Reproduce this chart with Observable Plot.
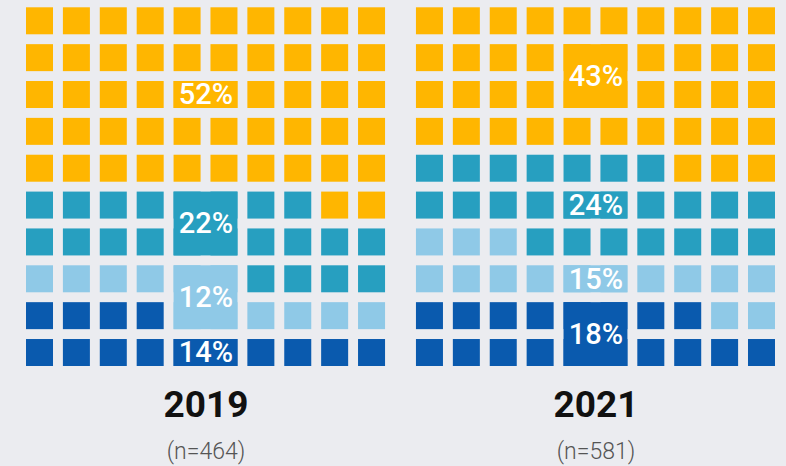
<!DOCTYPE html>
<html>
<head>
<meta charset="utf-8">
<script src="https://cdn.jsdelivr.net/npm/d3@7"></script>
<script src="https://cdn.jsdelivr.net/npm/@observablehq/plot@0.6"></script>
<style>
  html, body { margin: 0; padding: 0; background: #ebecf0; }
  #chart svg { display: block; }
</style>
</head>
<body>
<div id="chart"></div>
<script>
// Data
const years = ["2019", "2021"];
const sampleSizes = ["(n=464)", "(n=581)"];
// categories in fill order (bottom-left upward)
const categories = ["dark", "light", "teal", "yellow"];
const colors = ["#0a5aae", "#8fc9e7", "#279fc0", "#ffb600"];
const values2019 = [14, 12, 22, 52];
const values2021 = [18, 15, 24, 43];
const seriesValues = [values2019, values2021];

// Layout constants (in grid units; 1 unit = cell pitch)
const COLS = 10, ROWS = 10;
const CELL = 0.732;      // cell size relative to pitch
const SHIFT = 10.57;     // offset of second grid
const LABEL_COLS = [4, 5];

const cells = [];
const blocks = [];
seriesValues.forEach((vals, g) => {
  const grid = [];
  let i = 0;
  vals.forEach((v, k) => {
    for (let j = 0; j < v; j++, i++) {
      const row = ROWS - 1 - Math.floor(i / COLS);
      const col = i % COLS;
      grid[row * COLS + col] = k;
      cells.push({g, k, row, col, x1: g * SHIFT + col, x2: g * SHIFT + col + CELL, y1: row, y2: row + CELL});
    }
  });
  // label blocks: rows where both label columns belong to category
  vals.forEach((v, k) => {
    const rows = [];
    for (let r = 0; r < ROWS; r++) {
      if (LABEL_COLS.every(c => grid[r * COLS + c] === k)) rows.push(r);
    }
    let chosen;
    if (rows.length % 2 === 1) chosen = [rows[(rows.length - 1) / 2]];
    else chosen = [rows[rows.length / 2 - 1], rows[rows.length / 2]];
    const r0 = chosen[0], r1 = chosen[chosen.length - 1];
    const x1 = g * SHIFT + LABEL_COLS[0];
    const x2 = g * SHIFT + LABEL_COLS[1] + CELL;
    blocks.push({g, k, x1, x2, y1: r0, y2: r1 + CELL, cx: (x1 + x2) / 2, cy: (r0 + r1 + CELL) / 2, label: v + "%"});
  });
});

const titles = years.map((y, g) => ({cx: g * SHIFT + (COLS - 1 + CELL) / 2, year: y, n: sampleSizes[g]}));

const chart = Plot.plot({
  width: 786,
  height: 466,
  margin: 0,
  style: {background: "#ebecf0", fontFamily: "Roboto, 'Noto Sans', sans-serif"},
  x: {axis: null, domain: [0, SHIFT + COLS - 1 + CELL], range: [26, 775]},
  y: {axis: null, domain: [0, ROWS - 1 + CELL], range: [7.3, 366]},
  color: {domain: categories, range: colors},
  marks: [
    Plot.rect(cells, {x1: "x1", x2: "x2", y1: "y1", y2: "y2", fill: d => categories[d.k]}),
    Plot.rect(blocks, {x1: "x1", x2: "x2", y1: "y1", y2: "y2", fill: d => categories[d.k]}),
    Plot.text(blocks, {x: "cx", y: "cy", text: "label", fill: "white", fontSize: 29, fontWeight: 500}),
    Plot.text(titles, {x: "cx", y: () => 10.78, text: "year", fill: "#111", fontSize: 37, fontWeight: 700}),
    Plot.text(titles, {x: "cx", y: () => 12.03, text: "n", fill: "#555", fontSize: 23, fontWeight: 300})
  ]
});
document.getElementById("chart").appendChild(chart);
</script>
</body>
</html>
